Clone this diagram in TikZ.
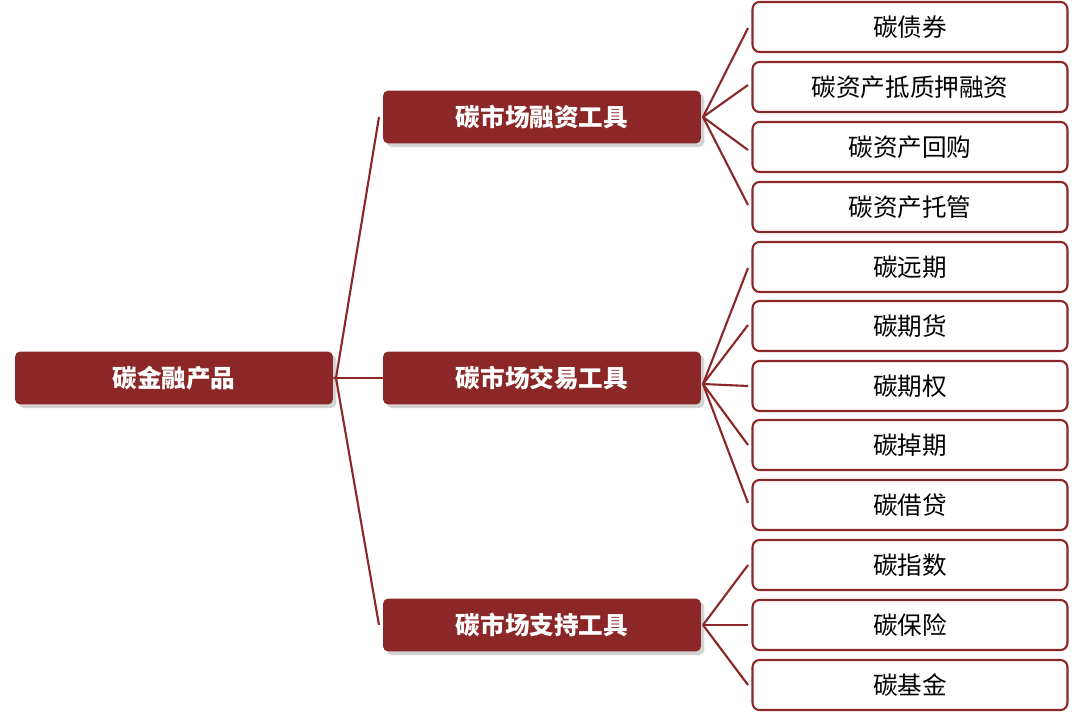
\documentclass[tikz,border=0pt]{standalone}
\usepackage{fontspec}
\newfontfamily\cjk{Noto Sans CJK SC}
\usetikzlibrary{shadows}
\definecolor{carbonred}{HTML}{8B2727}
\tikzstyle{redbox}=[fill=carbonred,rounded corners=3pt,text=white,font=\cjk\bfseries\fontsize{14}{16}\selectfont,minimum width=6.36cm,minimum height=1.06cm,drop shadow={shadow xshift=2pt,shadow yshift=-2pt,opacity=0.35}]
\tikzstyle{leafbox}=[draw=carbonred,line width=1.2pt,fill=white,rounded corners=4pt,font=\cjk\fontsize{14}{16}\selectfont,minimum width=6.3cm,minimum height=1.0cm]
\tikzstyle{link}=[draw=carbonred,line width=1.2pt]

\begin{document}
\begin{tikzpicture}[x=0.02cm,y=-0.02cm]
				\useasboundingbox (0,0) rectangle (1080,717);
				\node[redbox] (root) at (174,378) {碳金融产品};
				\node[redbox] (finance) at (542,117) {碳市场融资工具};
				\node[redbox] (trade) at (542,378) {碳市场交易工具};
				\node[redbox] (support) at (542,625) {碳市场支持工具};
				% leaves
				\foreach \name/\y/\txt in {bond/27/碳债券, pledge/87/碳资产抵质押融资, repo/147/碳资产回购, custody/207/碳资产托管,
					forward/267/碳远期, futures/326/碳期货, option/386/碳期权, swap/445/碳掉期, lend/505/碳借贷,
					index/565/碳指数, insure/625/碳保险, fund/685/碳基金}
				\node[leafbox] (\name) at (910,\y) {\txt};
				% root links
				\coordinate (rootfork) at (336,378);
				\draw[link] (root.east) -- (rootfork) -- (379,117);
				\draw[link] (rootfork) -- (379,625);
				\draw[link,line width=0.8pt] (rootfork) -- (trade.west);
				% finance links
				\coordinate (ffork) at (703,117);
				\foreach \y in {28,85,150,205} \draw[link] (ffork) -- (748,\y);
				% trade links
				\coordinate (tfork) at (703,384);
				\foreach \y in {268,325,386,445,503} \draw[link] (tfork) -- (748,\y);
				% support links
				\coordinate (sfork) at (703,625);
				\foreach \y in {565,625,685} \draw[link] (sfork) -- (748,\y);
			\end{tikzpicture}
\end{document}
